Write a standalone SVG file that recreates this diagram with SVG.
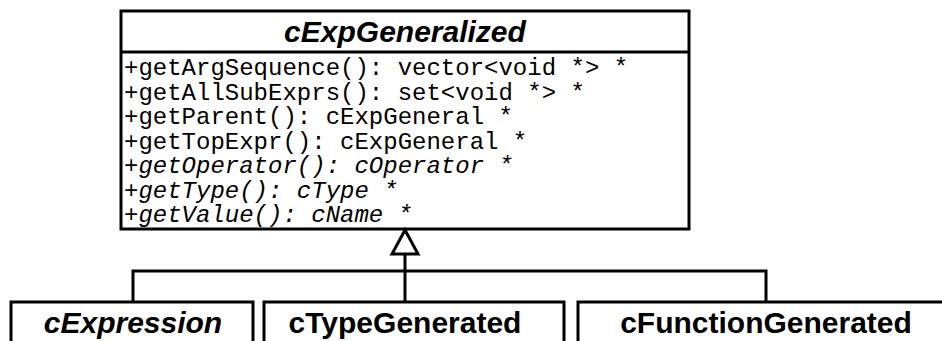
<svg xmlns="http://www.w3.org/2000/svg" width="942" height="341" viewBox="0 0 942 341">
<style>
.box{fill:#fff;stroke:#000;stroke-width:3}
.ln{fill:none;stroke:#000;stroke-width:3}
.title{font-family:"Liberation Sans",Arial,sans-serif;font-weight:bold;font-size:30px;text-anchor:middle}
.cls{font-family:"Liberation Sans",Arial,sans-serif;font-weight:bold;font-size:30px;text-anchor:middle}
.m{font-family:"Liberation Mono","Courier New",monospace;font-size:24px}
.i{font-style:italic}
</style>
<rect width="942" height="341" fill="#fff"/>
<g id="cExpGeneralized">
<rect class="box" x="121" y="11" width="568" height="218"/>
<line class="ln" x1="121" y1="52" x2="689" y2="52"/>
<text class="title i" x="405" y="42">cExpGeneralized</text>
<text class="m" x="124" y="75">+getArgSequence(): vector&lt;void *&gt; *</text>
<text class="m" x="124" y="99.5">+getAllSubExprs(): set&lt;void *&gt; *</text>
<text class="m" x="124" y="124">+getParent(): cExpGeneral *</text>
<text class="m" x="124" y="148.5">+getTopExpr(): cExpGeneral *</text>
<text class="m i" x="124" y="173">+getOperator(): cOperator *</text>
<text class="m i" x="124" y="197.5">+getType(): cType *</text>
<text class="m i" x="124" y="222">+getValue(): cName *</text>
</g>
<g id="cExpression">
<rect class="box" x="11" y="302" width="242" height="60"/>
<text class="cls i" x="133" y="333">cExpression</text>
</g>
<g id="cTypeGenerated">
<rect class="box" x="264" y="302" width="300" height="60"/>
<text class="cls" x="405" y="333">cTypeGenerated</text>
</g>
<g id="cFunctionGenerated">
<rect class="box" x="578" y="302" width="376" height="60"/>
<text class="cls" x="766" y="333">cFunctionGenerated</text>
</g>
<g id="connectors">
<polyline class="ln" points="133,302 133,271 766,271 766,302"/>
<line class="ln" x1="405" y1="302" x2="405" y2="254"/>
<polygon class="ln" style="fill:#fff" points="405,230 392,254 418,254"/>
</g>
</svg>
